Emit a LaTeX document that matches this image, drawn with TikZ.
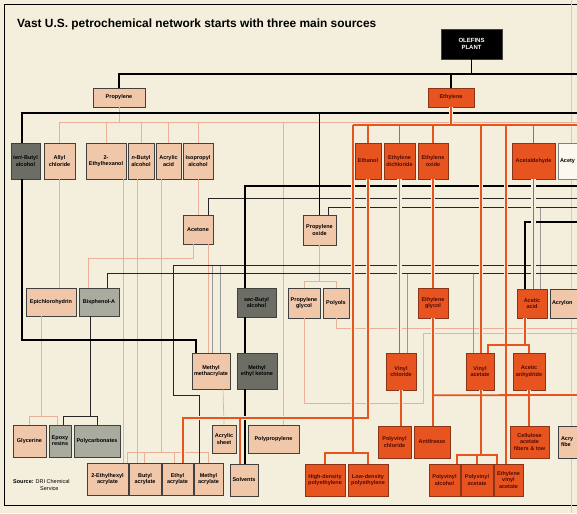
\documentclass[tikz,border=0pt]{standalone}
\usepackage{fontspec}
\setmainfont{Liberation Sans}
\usetikzlibrary{positioning}
\usetikzlibrary{calc}

\definecolor{paper}{RGB}{243,239,220}
\definecolor{peach}{RGB}{241,199,170}
\definecolor{peachline}{RGB}{236,176,152}
\definecolor{ethorange}{RGB}{231,84,32}
\definecolor{ethedge}{RGB}{140,52,24}
\definecolor{ethtext}{RGB}{80,10,5}
\definecolor{butdark}{RGB}{108,110,102}
\definecolor{bisgrey}{RGB}{168,171,158}

\begin{document}
\begin{tikzpicture}[x=1pt, y=-1pt,
  chem/.style={draw=black!75, line width=0.5pt, inner sep=0pt, align=center,
    font=\fontsize{5.5}{6.2}\selectfont\bfseries},
  propbox/.style={chem, fill=peach},
  ethbox/.style={chem, fill=ethorange, draw=ethedge, text=ethtext},
  butbox/.style={chem, fill=butdark},
  bisbox/.style={chem, fill=bisgrey},
  plainbox/.style={chem, fill=white!55!paper, draw=black!50},
  plink/.style={peachline, line width=0.7pt},
  ohalo/.style={paper, line width=4.2pt},
  olink/.style={ethorange, line width=1.8pt},
  blink/.style={black, line width=1.8pt},
  tlink/.style={black!85, line width=0.7pt},
  glink/.style={black!40, line width=0.7pt},
]
 % page and frame
 \useasboundingbox (0,0) rectangle (577,513);
 \clip (0,0) rectangle (577,513);
 \fill[paper] (0,0) rectangle (577,513);
 \draw[line width=0.8pt] (600,4) -- (4,4) -- (4,505) -- (600,505);
 \draw[black!20, line width=0.4pt] (571,0) -- (571,513);

 \node[anchor=west, inner sep=0pt, font=\fontsize{11.9}{13}\selectfont\bfseries] (title) at (17,24)
   {Vast U.S. petrochemical network starts with three main sources};

 % sources
 \node[chem, fill=black, text=white, font=\fontsize{6}{7}\selectfont\bfseries,
   minimum width=61, minimum height=30] (olefins) at (471.5,44) {OLEFINS\\PLANT};
 \node[propbox, minimum width=52, minimum height=19] (propylene) at (119,97.5) {Propylene};
 \node[ethbox, minimum width=46, minimum height=19] (ethylene) at (451,97.5) {Ethylene};

 % first row
 \node[butbox, minimum width=29, minimum height=36] (tba) at (25.5,161) {\textit{tert}-Butyl\\alcohol};
 \node[propbox, minimum width=31, minimum height=36] (allyl) at (59.5,161) {Allyl\\chloride};
 \node[propbox, minimum width=40, minimum height=36] (ethylhexanol) at (106,161) {2-\\Ethylhexanol};
 \node[propbox, minimum width=26, minimum height=36] (nbutyl) at (141,161) {\textit{n}-Butyl\\alcohol};
 \node[propbox, minimum width=25, minimum height=36] (acrylic) at (168.5,161) {Acrylic\\acid};
 \node[propbox, minimum width=30, minimum height=36] (isopropyl) at (198,161) {Isopropyl\\alcohol};
 \node[ethbox, minimum width=26, minimum height=36] (ethanol) at (368,161) {Ethanol};
 \node[ethbox, minimum width=31, minimum height=36] (edc) at (399.5,161) {Ethylene\\dichloride};
 \node[ethbox, minimum width=30, minimum height=36] (eo) at (433,161) {Ethylene\\oxide};
 \node[ethbox, minimum width=43, minimum height=36] (acetaldehyde) at (533.5,161) {Acetaldehyde};
 \node[plainbox, minimum width=42, minimum height=36, text width=38, inner xsep=2, align=left] (acety) at (579,161) {Acety};

 % second row
 \node[propbox, minimum width=30, minimum height=29] (acetone) at (198,229.5) {Acetone};
 \node[propbox, minimum width=33, minimum height=30] (propoxide) at (319.5,230) {Propylene\\oxide};
 \node[propbox, minimum width=50, minimum height=28] (epichloro) at (51,302) {Epichlorohydrin};
 \node[bisbox, minimum width=40, minimum height=28] (bisphenol) at (99,302) {Bisphenol-A};
 \node[butbox, minimum width=39, minimum height=29] (secbutyl) at (256.5,302.5) {\textit{sec}-Butyl\\alcohol};
 \node[propbox, minimum width=32, minimum height=30] (propglycol) at (304,303) {Propylene\\glycol};
 \node[propbox, minimum width=26, minimum height=30] (polyols) at (336,303) {Polyols};
 \node[ethbox, minimum width=30, minimum height=30] (ethglycol) at (433,303) {Ethylene\\glycol};
 \node[ethbox, minimum width=30, minimum height=29] (aceticacid) at (532,303.5) {Acetic\\acid};
 \node[propbox, minimum width=50, minimum height=29, text width=46, inner xsep=2, align=left] (acrylonitrile) at (575,303.5) {Acrylon};

 % third row
 \node[propbox, minimum width=38, minimum height=36] (mma) at (211,371) {Methyl\\methacrylate};
 \node[butbox, minimum width=40, minimum height=36] (mek) at (257,371) {Methyl\\ethyl ketone};
 \node[ethbox, minimum width=30, minimum height=37] (vinylchloride) at (401,371.5) {Vinyl\\chloride};
 \node[ethbox, minimum width=28, minimum height=37] (vinylacetate) at (480,371.5) {Vinyl\\acetate};
 \node[ethbox, minimum width=32, minimum height=37] (aceticanhydride) at (529,371.5) {Acetic\\anhydride};

 % end products
 \node[propbox, minimum width=33, minimum height=32] (glycerine) at (29.5,441) {Glycerine};
 \node[bisbox, minimum width=22, minimum height=32] (epoxy) at (60,441) {Epoxy\\resins};
 \node[bisbox, minimum width=46, minimum height=32] (polycarb) at (97,441) {Polycarbonates};
 \node[propbox, minimum width=24, minimum height=28] (acrylicsheet) at (224,439) {Acrylic\\sheet};
 \node[propbox, minimum width=51, minimum height=28] (polypropylene) at (273.5,439) {Polypropylene};
 \node[ethbox, minimum width=33, minimum height=32] (pvc) at (394.5,442) {Polyvinyl\\chloride};
 \node[ethbox, minimum width=36, minimum height=32] (antifreeze) at (432,442) {Antifreeze};
 \node[ethbox, minimum width=39, minimum height=32] (cellulose) at (529.5,442) {Cellulose\\acetate\\fibers \& tow};
 \node[propbox, minimum width=42, minimum height=32, text width=38, inner xsep=3, align=left] (acrylicfibers) at (580,442) {Acry\\fibe};
 \node[propbox, minimum width=41, minimum height=32] (ehacrylate) at (107.5,479) {2-Ethylhexyl\\acrylate};
 \node[propbox, minimum width=32, minimum height=32] (butylacrylate) at (145,479) {Butyl\\acrylate};
 \node[propbox, minimum width=31, minimum height=32] (ethylacrylate) at (177.5,479) {Ethyl\\acrylate};
 \node[propbox, minimum width=29, minimum height=32] (methylacrylate) at (208.5,479) {Methyl\\acrylate};
 \node[propbox, minimum width=28, minimum height=32] (solvents) at (244,480) {Solvents};
 \node[ethbox, minimum width=40, minimum height=32] (hdpe) at (325,480) {High-density\\polyethylene};
 \node[ethbox, minimum width=40, minimum height=32] (ldpe) at (368,480) {Low-density\\polyethylene};
 \node[ethbox, minimum width=31, minimum height=32] (pva) at (444.5,480) {Polyvinyl\\alcohol};
 \node[ethbox, minimum width=32, minimum height=32] (pvac) at (477,480) {Polyvinyl\\acetate};
 \node[ethbox, minimum width=29, minimum height=32] (eva) at (508.5,480) {Ethylene\\vinyl\\acetate};

 \node[anchor=west, align=left, inner sep=0pt, font=\fontsize{5.5}{6.5}\selectfont] (source) at (13,485)
   {\textbf{Source:} DRI Chemical\\\hspace*{27pt}Service};

 % lines leaving the page on the right
 \coordinate (eastA) at (590,74);
 \coordinate (eastB) at (590,113);
 \coordinate (eastP) at (590,122);
 \coordinate (eastO) at (590,125);
 \coordinate (eastC) at (590,186);
 \coordinate (eastE) at (590,198);
 \coordinate (eastF) at (590,207);
 \coordinate (eastD) at (590,222);
 \coordinate (eastH) at (590,265);
 \coordinate (eastG) at (590,273);
 \coordinate (eastQ) at (590,328);
 \coordinate (eastR) at (590,333);
 \coordinate (eastS) at (590,395);
 \coordinate (ewest) at (353,125);
 \coordinate (mabend) at (173,395);
 \coordinate (pgbend) at (423,403);

 % propylene lines
 \draw[plink] (propylene.south) -- ++(0,15);
 \draw[plink] (allyl.north) |- (eastP);
 \foreach \n in {ethylhexanol, nbutyl, acrylic, isopropyl}
   \draw[plink] (\n.north) -- ++(0,-21);
 \draw[plink] ([xshift=9.5]polypropylene.north) -- ++(0,-303);
 \draw[plink] (isopropyl.south) -- (acetone.north);
 \draw[plink] ([xshift=-5]acetone.south) -- ++(0,14) -| ([xshift=-11]bisphenol.north);
 \draw[plink] ([xshift=10]acetone.south) -- ([xshift=-3]mma.north);
 \draw[plink] (allyl.south) -- (allyl.south |- epichloro.north);
 \draw[plink] ([xshift=-10]epichloro.south) -- ++(0,101);
 \draw[plink] (glycerine.north) -- ++(0,-8) -| ([xshift=-3]epoxy.north);
 \draw[plink] ([xshift=17]ethylhexanol.south) -- ([xshift=15.5]ehacrylate.north);
 \draw[plink] ([xshift=-4]nbutyl.south) -- ([xshift=-8]butylacrylate.north);
 \draw[plink] ([xshift=-7.5]acrylic.south) -- ++(0,274);
 \draw[plink] ([xshift=19.5]ehacrylate.north) -- ++(0,-10) -| ([xshift=-0.5]methylacrylate.north);
 \draw[plink] ([xshift=-1]butylacrylate.north) -- ++(0,-10);
 \draw[plink] ([xshift=-3]ethylacrylate.north) -- ++(0,-10);
 \draw[plink] (propoxide.south) -- ++(0,37);
 \draw[plink] (propglycol.north) -- ++(0,-6) -| (polyols.north);
 \draw[plink] (polyols.south) |- (eastQ);
 \draw[plink] (propglycol.south) |- (pgbend) |- (eastR);
 \draw[plink] ([xshift=12]mma.south) -- (acrylicsheet.north);

 % grey and thin black lines
 \draw[glink] (eastH) -| ([xshift=1]mma.north);
 \draw[glink] ([xshift=9]mma.north) -- ++(0,-88);
 \draw[glink] ([xshift=-7]vinylacetate.north) -- ++(0,-80);
 \draw[glink] ([xshift=6]vinylchloride.north) -- ++(0,-80);
 \draw[glink] ([xshift=8]aceticacid.north) -- ++(0,-82);
 \draw[tlink] (eastH) -| (mabend) -| ([xshift=-9.5]methylacrylate.north);
 \draw[tlink] ([xshift=10]acetone.north) |- (eastE);
 \draw[tlink] ([xshift=8.5]propoxide.north) |- (eastF);
 \draw[tlink] ([xshift=8]bisphenol.north) |- (eastG);
 \draw[tlink] ([xshift=-9]bisphenol.south) -- ++(0,101);
 \draw[tlink] ([xshift=3]epoxy.north) -- ++(0,-8) -| (polycarb.north);

 % heavy black lines
 \draw[blink] (propylene.north) |- (eastA);
 \draw[blink] (olefins.south) -- (olefins.south |- eastA);
 \draw[blink] (ethylene.north) -- (ethylene.north |- eastA);
 \draw[blink] ([xshift=-3.5]tba.north) |- (eastB);
 \draw[blink] (propoxide.north) -- (propoxide.north |- eastB);
 \draw[blink] ([xshift=-3.5]tba.south) -- ++(0,161) -| ([xshift=-15]mma.north);
 \draw[blink] (eastC) -| ([xshift=-11.5]secbutyl.north);
 \draw[blink] ([xshift=-11.5]secbutyl.south) -- ([xshift=-12]mek.north);
 \draw[blink] ([xshift=-12]mek.south) -- ([xshift=1]solvents.north);
 \draw[blink] (eastD) -| ([xshift=-7]aceticacid.north);

 % ethylene lines, drawn twice: paper gap first, then orange
 \def\ethylenenet#1{
   \draw[#1] (ethylene.south) -- ++(0,18);
   \draw[#1] (ewest) -- (eastO);
   \foreach \n in {ethanol, edc, eo, acetaldehyde}
     \draw[#1] (\n.north) -- ++(0,-18);
   \draw[#1] (ewest) -- ++(0,328);
   \draw[#1] (hdpe.north) -- ++(0,-11) -| (ldpe.north);
   \draw[#1] (ethanol.south) -- ++(0,239) -| ([xshift=5.5]ethylacrylate.north);
   \draw[#1] ([xshift=-4]solvents.north) -- ++(0,-46);
   \draw[#1] (edc.south) -- (edc.south |- vinylchloride.north);
   \draw[#1] (vinylchloride.south) -- (vinylchloride.south |- pvc.north);
   \draw[#1] (eo.south) -- (ethglycol.north);
   \draw[#1] (ethglycol.south) -- (ethglycol.south |- antifreeze.north);
   \draw[#1] ($(ethglycol.south)+(0,77)$) -- (eastS);
   \draw[#1] ([xshift=1]vinylacetate.north) -- ++(0,-228);
   \draw[#1] ([xshift=-2.5]eva.north) -- ++(0,-339);
   \draw[#1] (acetaldehyde.south) -- (acetaldehyde.south |- aceticacid.north);
   \draw[#1] ([xshift=-7]aceticacid.south) -- ++(0,27);
   \draw[#1] ([xshift=8]vinylacetate.north) -- ++(0,-8) -| (aceticanhydride.north);
   \draw[#1] (aceticanhydride.south) -- (aceticanhydride.south |- cellulose.north);
   \draw[#1] ([xshift=1]vinylacetate.south) -- ++(0,65);
   \draw[#1] ([xshift=12.5]pva.north) -- ++(0,-9) -| ([xshift=-11.5]eva.north);
   \draw[#1] (pvac.north) -- ++(0,-9);
 }
 \ethylenenet{ohalo}
 \ethylenenet{olink}
\end{tikzpicture}
\end{document}
